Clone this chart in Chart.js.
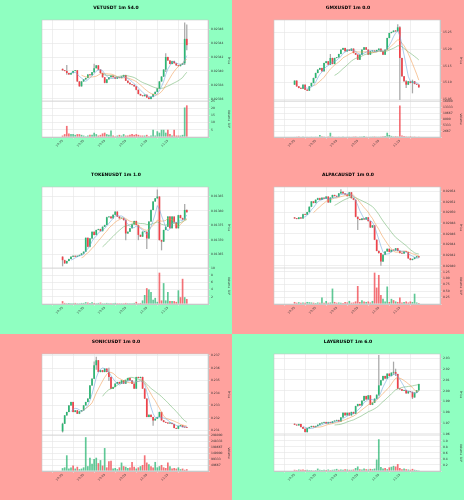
<!DOCTYPE html>
<html>
<head>
<meta charset="utf-8">
<script src="https://cdn.jsdelivr.net/npm/chart.js@4.4.0/dist/chart.umd.min.js"></script>
<style>
  body { margin: 0; width: 464px; height: 500px; position: relative; overflow: hidden; font-family: "DejaVu Sans", sans-serif; }
  .panel { position: absolute; width: 232px; overflow: hidden; }
  .panel canvas { position: absolute; left: 0; top: 0; }
  .ttl { position: absolute; left: 0; top: 5px; width: 232px; text-align: center; font-size: 4.5px; font-weight: bold; color: #000; }
</style>
</head>
<body>
<script>
// x tick labels, one every 10 candles
const timeLabels = ['10:25', '10:35', '10:45', '10:55', '11:05', '11:15'];

// VETUSDT
const vetFirstOpen = 0.023403;
const vetClose = [0.023401, 0.023400, 0.023397, 0.023395, 0.023397, 0.023400, 0.023401, 0.023385, 0.023378, 0.023385,
  0.023388, 0.023390, 0.023395, 0.023394, 0.023398, 0.023404, 0.023408, 0.023402, 0.023397, 0.023391,
  0.023383, 0.023388, 0.023391, 0.023393, 0.023391, 0.023389, 0.023391, 0.023390, 0.023392, 0.023394,
  0.023386, 0.023383, 0.023381, 0.023380, 0.023378, 0.023373, 0.023367, 0.023365, 0.023364, 0.023366,
  0.023362, 0.023360, 0.023363, 0.023367, 0.023370, 0.023375, 0.023385, 0.023392, 0.023402, 0.023420,
  0.023415, 0.023410, 0.023414, 0.023411, 0.023408, 0.023407, 0.023409, 0.023411, 0.023446, 0.023437];
const vetVol = [1, 2, 7.7, 2.5, 2, 2, 1.5, 2, 2, 1.5,
  1, 0.5, 1, 1.5, 1.5, 3, 2, 1, 1.5, 2.5,
  3, 2, 1.5, 4.5, 1, 0.5, 1, 1.5, 1, 2,
  1, 1, 1.5, 2, 1.5, 2, 1.5, 1, 1, 1,
  1.5, 0.5, 1, 5, 1, 4, 3, 5, 5, 3,
  5, 2, 1, 5, 1, 1, 1, 1.5, 20.5, 22];
const vetWicks = { 2: [0.023395, 0.023408], 15: [0.023398, 0.023410], 49: [0.023399, 0.023425], 58: [0.023409, 0.023469], 59: [0.023430, 0.023466] };

// GMXUSDT
const gmxFirstOpen = 15.094;
const gmxClose = [15.106, 15.089, 15.084, 15.082, 15.094, 15.079, 15.076, 15.089, 15.099, 15.114,
  15.129, 15.139, 15.144, 15.134, 15.159, 15.164, 15.154, 15.174, 15.156, 15.174,
  15.176, 15.186, 15.199, 15.204, 15.194, 15.199, 15.196, 15.202, 15.189, 15.184,
  15.169, 15.184, 15.199, 15.206, 15.199, 15.184, 15.194, 15.196, 15.194, 15.198,
  15.202, 15.194, 15.184, 15.199, 15.234, 15.249, 15.252, 15.256, 15.254, 15.266,
  15.174, 15.119, 15.104, 15.094, 15.104, 15.099, 15.104, 15.096, 15.094, 15.086];
const gmxVol = [150, 200, 300, 150, 250, 150, 100, 150, 200, 150,
  200, 150, 900, 300, 200, 150, 300, 1900, 300, 150,
  150, 200, 150, 250, 150, 100, 200, 150, 250, 300,
  150, 200, 250, 400, 200, 150, 200, 250, 300, 200,
  200, 250, 300, 400, 1900, 900, 500, 300, 400, 300,
  14000, 700, 500, 300, 250, 350, 200, 250, 150, 200];
const gmxWicks = { 17: [15.160, 15.185], 49: [15.254, 15.274], 50: [15.049, 15.268], 53: [15.085, 15.106], 56: [15.069, 15.108] };

// TOKENUSDT
const tokenFirstOpen = 0.013642;
const tokenClose = [0.013630, 0.013619, 0.013627, 0.013634, 0.013642, 0.013645, 0.013642, 0.013645, 0.013648, 0.013653,
  0.013659, 0.013707, 0.013676, 0.013705, 0.013728, 0.013717, 0.013734, 0.013737, 0.013730, 0.013745,
  0.013751, 0.013778, 0.013780, 0.013774, 0.013786, 0.013797, 0.013780, 0.013774, 0.013774, 0.013768,
  0.013722, 0.013728, 0.013740, 0.013753, 0.013765, 0.013751, 0.013717, 0.013711, 0.013728, 0.013728,
  0.013705, 0.013763, 0.013803, 0.013832, 0.013843, 0.013849, 0.013699, 0.013694, 0.013734, 0.013745,
  0.013780, 0.013740, 0.013780, 0.013760, 0.013740, 0.013785, 0.013775, 0.013770, 0.013803, 0.013795];
const tokenVol = [0.8, 0.3, 0.2, 0.3, 0.2, 0.2, 0.3, 0.2, 0.2, 0.3,
  0.3, 0.5, 0.4, 0.3, 0.5, 0.3, 0.2, 0.3, 0.4, 0.2,
  0.2, 0.3, 0.2, 0.2, 0.2, 0.3, 0.2, 0.2, 0.2, 0.2,
  0.3, 0.2, 0.2, 0.2, 0.3, 0.6, 0.2, 0.3, 1.0, 2.5,
  4.4, 4.0, 3.3, 1.2, 1.7, 0.6, 8.7, 1.0, 5.8, 1.0,
  3.3, 0.8, 0.8, 0.8, 0.6, 3.8, 1.9, 7.0, 1.9, 1.4];
const tokenWicks = { 0: [0.013610, 0.013642], 30: [0.013700, 0.013770], 36: [0.013700, 0.013751], 40: [0.013670, 0.013728], 45: [0.013843, 0.013872], 47: [0.013665, 0.013699], 58: [0.013780, 0.013822] };

// ALPACAUSDT
const alpacaFirstOpen = 0.020491;
const alpacaClose = [0.020489, 0.020488, 0.020491, 0.020489, 0.020497, 0.020496, 0.020501, 0.020511, 0.020521, 0.020518,
  0.020524, 0.020527, 0.020524, 0.020528, 0.020526, 0.020530, 0.020519, 0.020528, 0.020533, 0.020531,
  0.020530, 0.020536, 0.020539, 0.020536, 0.020534, 0.020531, 0.020538, 0.020527, 0.020524, 0.020492,
  0.020488, 0.020486, 0.020489, 0.020487, 0.020491, 0.020484, 0.020472, 0.020476, 0.020449, 0.020428,
  0.020424, 0.020408, 0.020421, 0.020427, 0.020432, 0.020426, 0.020430, 0.020429, 0.020433, 0.020428,
  0.020424, 0.020423, 0.020427, 0.020426, 0.020414, 0.020411, 0.020413, 0.020416, 0.020418, 0.020416];
const alpacaVol = [0.08, 0.05, 0.07, 0.05, 0.06, 0.05, 0.08, 0.07, 0.06, 0.05,
  0.04, 0.06, 0.05, 0.25, 0.05, 0.12, 0.05, 0.06, 0.6, 0.08,
  0.05, 0.06, 0.05, 0.04, 0.08, 0.06, 0.12, 0.05, 0.06, 0.1,
  0.7, 0.08, 0.15, 0.1, 0.08, 0.1, 0.06, 0.12, 1.22, 0.64,
  1.13, 0.35, 0.2, 0.1, 0.68, 0.08, 0.2, 0.15, 0.1, 0.08,
  0.25, 0.06, 0.08, 0.1, 0.06, 0.1, 0.08, 0.4, 0.06, 0.04];
const alpacaWicks = { 22: [0.020536, 0.020543], 30: [0.020468, 0.020492], 41: [0.020401, 0.020424] };

// SONICUSDT
const sonicFirstOpen = 0.23094;
const sonicClose = [0.23155, 0.23222, 0.23249, 0.23302, 0.23329, 0.23249, 0.23262, 0.23235, 0.23254, 0.23262,
  0.23302, 0.23329, 0.23356, 0.23462, 0.23516, 0.23623, 0.23663, 0.23569, 0.23583, 0.23569,
  0.23596, 0.23569, 0.23529, 0.23436, 0.23449, 0.23476, 0.23489, 0.23476, 0.23502, 0.23476,
  0.23502, 0.23521, 0.23502, 0.23476, 0.23436, 0.23529, 0.23521, 0.23529, 0.23436, 0.23356,
  0.23209, 0.23227, 0.23209, 0.23182, 0.23195, 0.23209, 0.23249, 0.23182, 0.23169, 0.23163,
  0.23158, 0.23161, 0.23153, 0.23121, 0.23115, 0.23137, 0.23142, 0.23129, 0.23126, 0.23123];
const sonicVol = [24000, 30000, 130000, 20000, 30000, 45000, 20000, 35000, 15000, 20000,
  30000, 280000, 40000, 110000, 60000, 100000, 110000, 65000, 90000, 45000,
  190000, 30000, 80000, 85000, 20000, 25000, 15000, 30000, 70000, 40000,
  35000, 25000, 30000, 75000, 35000, 20000, 30000, 40000, 50000, 130000,
  70000, 55000, 40000, 30000, 75000, 30000, 40000, 50000, 30000, 25000,
  70000, 40000, 20000, 25000, 20000, 30000, 15000, 20000, 10000, 15000];
const sonicWicks = { 0: [0.23088, 0.23160], 15: [0.23560, 0.23650], 16: [0.23590, 0.23689], 22: [0.23500, 0.23600], 43: [0.23142, 0.23209] };

// LAYERUSDT
const layerFirstOpen = 1.9694;
const layerClose = [1.9685, 1.9679, 1.9691, 1.9663, 1.9648, 1.9617, 1.9654, 1.9663, 1.9673, 1.9663,
  1.9673, 1.9685, 1.9697, 1.9704, 1.9710, 1.9697, 1.9710, 1.9701, 1.9716, 1.9722,
  1.9728, 1.9716, 1.9753, 1.9796, 1.9772, 1.9796, 1.9772, 1.9803, 1.9787, 1.9858,
  1.9877, 1.9864, 1.9908, 1.9951, 1.9920, 1.9957, 1.9870, 1.9889, 1.9926, 1.9963,
  2.0050, 2.0096, 2.0136, 2.0112, 2.0158, 2.0136, 2.0167, 2.0173, 2.0155, 2.0019,
  2.0013, 2.0000, 2.0006, 1.9976, 1.9994, 1.9988, 1.9938, 1.9982, 2.0003, 2.0062];
const layerVol = [0.04, 0.03, 0.05, 0.04, 0.05, 0.03, 0.04, 0.03, 0.03, 0.02,
  0.03, 0.08, 0.04, 0.03, 0.04, 0.03, 0.05, 0.03, 0.04, 0.05,
  0.07, 0.04, 0.05, 0.04, 0.06, 0.05, 0.04, 0.04, 0.05, 0.1,
  0.15, 0.06, 0.05, 0.08, 0.06, 0.05, 0.07, 0.06, 0.08, 0.38,
  1.05, 0.13, 0.08, 0.1, 0.06, 0.12, 0.14, 0.17, 0.15, 0.23,
  0.1, 0.06, 0.08, 0.06, 0.05, 0.04, 0.07, 0.04, 0.03, 0.02];
const layerWicks = { 40: [1.9955, 2.0328], 47: [2.0150, 2.0266], 48: [2.0140, 2.0200], 56: [1.9926, 1.9990] };

const GREEN_BG = '#8fffc1';
const RED_BG = '#ffa29e';
const UP = '#2bb673';
const DOWN = '#f0424a';
const UP_VOL = 'rgba(43,182,115,0.75)';
const DOWN_VOL = 'rgba(240,66,74,0.75)';
const MA_COLORS = ['rgba(110,165,220,0.8)', 'rgba(240,155,80,0.8)', 'rgba(110,180,110,0.8)'];
const GRID = '#e4e4e4';
const FONT = 'DejaVu Sans';

const panels = [
  { title: 'VETUSDT 1m 54.0', bg: GREEN_BG, open: vetFirstOpen, close: vetClose, vol: vetVol, wicks: vetWicks,
    yMin: 0.023357, yMax: 0.023473, yStep: 0.00002, yDig: 5, vMax: 25, vStep: 5, vDig: 0, vTitle: 'Volume  10\u2076' },
  { title: 'GMXUSDT 1m 0.0', bg: RED_BG, open: gmxFirstOpen, close: gmxClose, vol: gmxVol, wicks: gmxWicks,
    yMin: 15.045, yMax: 15.288, yStep: 0.05, yDig: 2, vMax: 16000, vStep: 2500, vDig: 0, vTitle: 'Volume' },
  { title: 'TOKENUSDT 1m 1.0', bg: GREEN_BG, open: tokenFirstOpen, close: tokenClose, vol: tokenVol, wicks: tokenWicks,
    yMin: 0.013603, yMax: 0.013882, yStep: 0.00005, yDig: 5, vMax: 10, vStep: 2, vDig: 0, vTitle: 'Volume  10\u2076' },
  { title: 'ALPACAUSDT 1m 0.0', bg: RED_BG, open: alpacaFirstOpen, close: alpacaClose, vol: alpacaVol, wicks: alpacaWicks,
    yMin: 0.020396, yMax: 0.020548, yStep: 0.00002, yDig: 5, vMax: 1.4, vStep: 0.25, vDig: 2, vTitle: 'Volume  10\u2076' },
  { title: 'SONICUSDT 1m 0.0', bg: RED_BG, open: sonicFirstOpen, close: sonicClose, vol: sonicVol, wicks: sonicWicks,
    yMin: 0.23065, yMax: 0.23713, yStep: 0.001, yDig: 3, vMax: 298000, vStep: 50000, vDig: 0, vTitle: 'Volume' },
  { title: 'LAYERUSDT 1m 6.0', bg: GREEN_BG, open: layerFirstOpen, close: layerClose, vol: layerVol, wicks: layerWicks,
    yMin: 1.959, yMax: 2.034, yStep: 0.01, yDig: 2, vMax: 1.19, vStep: 0.2, vDig: 1, vTitle: 'Volume  10\u2076' }
];

function sma(values, n) {
  return values.map((v, i) => {
    if (i < n - 1) return null;
    let s = 0;
    for (let k = i - n + 1; k <= i; k++) s += values[k];
    return s / n;
  });
}

// white plot area, thin frame and a line between price and volume
const plotBg = {
  id: 'plotBg',
  beforeDraw(chart) {
    const { ctx, chartArea: a } = chart;
    ctx.save();
    ctx.fillStyle = '#fff';
    ctx.fillRect(a.left, a.top, a.width, a.height);
    ctx.restore();
  },
  afterDraw(chart) {
    const { ctx, chartArea: a } = chart;
    const yb = chart.scales.yp.bottom;
    ctx.save();
    ctx.strokeStyle = '#c8c8c8';
    ctx.lineWidth = 0.6;
    ctx.strokeRect(a.left, a.top, a.width, a.height);
    ctx.beginPath();
    ctx.moveTo(a.left, yb);
    ctx.lineTo(a.right, yb);
    ctx.stroke();
    ctx.restore();
  }
};

function drawPanel(p, left, top, h) {
  const div = document.createElement('div');
  div.className = 'panel';
  div.style.left = left + 'px';
  div.style.top = top + 'px';
  div.style.height = h + 'px';
  div.style.background = p.bg;
  const canvas = document.createElement('canvas');
  canvas.width = 232;
  canvas.height = 167;
  const ttl = document.createElement('div');
  ttl.className = 'ttl';
  ttl.textContent = p.title;
  div.appendChild(canvas);
  div.appendChild(ttl);
  document.body.appendChild(div);

  const opens = p.close.map((c, i) => i === 0 ? p.open : p.close[i - 1]);
  const up = p.close.map((c, i) => c >= opens[i]);
  const bodies = p.close.map((c, i) => ({ x: i, y: [opens[i], c] }));
  const wicks = p.close.map((c, i) => {
    let lo = Math.min(opens[i], c), hi = Math.max(opens[i], c);
    const w = p.wicks[i];
    if (w) { lo = Math.min(lo, w[0]); hi = Math.max(hi, w[1]); }
    return { x: i, y: [lo, hi] };
  });
  const vols = p.vol.map((v, i) => ({ x: i, y: v }));
  const maSets = [5, 10, 20].map((n, k) => ({
    type: 'line',
    data: sma(p.close, n).map((v, i) => ({ x: i, y: v })),
    borderColor: MA_COLORS[k],
    borderWidth: 0.7,
    pointRadius: 0,
    yAxisID: 'yp',
    order: 1
  }));

  const tickFont = { size: 3, family: FONT };

  new Chart(canvas, {
    type: 'bar',
    data: {
      datasets: [
        ...maSets,
        { data: bodies, backgroundColor: up.map(u => u ? UP : DOWN), yAxisID: 'yp', grouped: false,
          barPercentage: 0.8, categoryPercentage: 1, minBarLength: 0.8, order: 2 },
        { data: wicks, backgroundColor: '#a8a8a8', yAxisID: 'yp', grouped: false, barThickness: 0.6, order: 3 },
        { data: vols, backgroundColor: up.map(u => u ? UP_VOL : DOWN_VOL), yAxisID: 'yv', grouped: false,
          barPercentage: 0.8, categoryPercentage: 1, order: 4 }
      ]
    },
    options: {
      responsive: false,
      animation: false,
      devicePixelRatio: 1,
      layout: { padding: { left: 42, top: 20, right: 0, bottom: 0 } },
      plugins: { legend: { display: false }, tooltip: { enabled: false } },
      scales: {
        x: {
          type: 'linear', min: -3.2, max: 62.5,
          grid: { color: GRID, lineWidth: 0.6, tickLength: 2 },
          border: { color: '#c8c8c8' },
          ticks: { font: tickFont, color: '#333', minRotation: 45, maxRotation: 45, autoSkip: false, padding: 0,
            callback: (v, i) => timeLabels[i] },
          afterBuildTicks: s => { s.ticks = timeLabels.map((t, k) => ({ value: k * 10 })); },
          afterFit: s => { s.height = 30; }
        },
        yp: {
          position: 'right', stack: 'main', stackWeight: 81,
          min: p.yMin, max: p.yMax,
          grid: { color: GRID, lineWidth: 0.6, tickLength: 2 },
          border: { color: '#c8c8c8' },
          ticks: { stepSize: p.yStep, includeBounds: false, autoSkip: false, font: tickFont, color: '#333', padding: 1,
            callback: v => v.toFixed(p.yDig) },
          title: { display: true, text: 'Price', font: { size: 3, family: FONT }, color: '#333', padding: { top: 1, bottom: 1 } },
          afterFit: s => { s.width = 24; }
        },
        yv: {
          position: 'right', stack: 'main', stackWeight: 36,
          min: 0, max: p.vMax,
          grid: { color: GRID, lineWidth: 0.6, tickLength: 2 },
          border: { color: '#c8c8c8' },
          ticks: { stepSize: p.vStep, includeBounds: false, autoSkip: false, font: tickFont, color: '#333', padding: 1,
            callback: v => v === 0 ? '' : v.toFixed(p.vDig) },
          title: { display: true, text: p.vTitle, font: { size: 3, family: FONT }, color: '#333', padding: { top: 1, bottom: 1 } },
          afterFit: s => { s.width = 24; }
        }
      }
    },
    plugins: [plotBg]
  });
}

panels.forEach((p, k) => {
  const col = k % 2;
  const row = Math.floor(k / 2);
  const top = row * 167;
  const h = row === 2 ? 166 : 167;
  drawPanel(p, col * 232, top, h);
});
</script>
</body>
</html>
